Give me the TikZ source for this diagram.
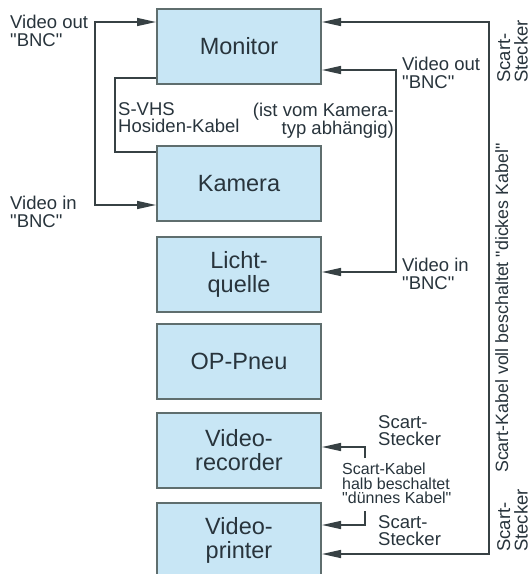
\documentclass[tikz,border=0pt]{standalone}
\usepackage{fontspec}
\setmainfont{Liberation Sans}[Ligatures=TeXOff]
\usetikzlibrary{arrows.meta}
\definecolor{boxfill}{RGB}{200,230,245}
\definecolor{boxdraw}{RGB}{95,110,110}
\definecolor{txtcol}{RGB}{40,52,60}
\definecolor{wirecol}{RGB}{55,65,68}
\begin{document}
\begin{tikzpicture}[x=1pt,y=-1pt,
  dev/.style={draw=boxdraw, line width=2pt, fill=boxfill, minimum width=164pt,
    minimum height=75pt, inner sep=0pt, align=center, text=txtcol,
    font=\fontsize{23.5}{24}\selectfont},
  lbl/.style={inner sep=0pt, text=txtcol, font=\fontsize{18.5}{17.5}\selectfont},
  smalllbl/.style={inner sep=0pt, text=txtcol, font=\fontsize{16}{14.5}\selectfont},
  wire/.style={draw=wirecol, line width=1.5pt},
  arr/.style={wire, -{Triangle[length=19pt,width=8pt]}},
  arrboth/.style={wire, {Triangle[length=19pt,width=8pt]}-{Triangle[length=19pt,width=8pt]}},
]
\useasboundingbox (0,0) rectangle (532,574);
\clip (0,0) rectangle (532,574);
\fill[white] (0,0) rectangle (532,574);

% devices
\node[dev] (mon) at (239,46) {Monitor};
\node[dev] (kam) at (239,183.5) {Kamera};
\node[dev] (lq) at (239,274) {Licht-\\quelle};
\node[dev] (op) at (239,361) {OP-Pneu};
\node[dev] (rec) at (239,450.5) {Video-\\recorder};
\node[dev] (prn) at (239,540) {Video-\\printer};

% left BNC cable
\coordinate (lv) at (95,0);
\draw[arrboth] (mon.west |- 0,22) -- (lv |- 0,22) -- (lv |- 0,205) -- (kam.west |- 0,205);
\node[lbl, anchor=north west, align=left] (vout) at (10,15) {Video out\\"BNC"};
\node[lbl, anchor=north west, align=left] (vin) at (10,196) {Video in\\"BNC"};

% S-VHS cable
\coordinate (sv) at (115,0);
\draw[wire] (mon.west |- 0,78) -- (sv |- 0,78) -- (sv |- 0,152) -- (kam.west |- 0,152);
\node[lbl, anchor=north west, align=left] (svhs) at (118,102) {S-VHS\\Hosiden-Kabel};
\node[lbl, anchor=north east, align=right] (typ) at (394,103) {(ist vom Kamera-\\typ abhängig)};

% right BNC cable
\coordinate (rv) at (396,0);
\draw[arrboth] (mon.east |- 0,70) -- (rv |- 0,70) -- (rv |- 0,272) -- (lq.east |- 0,272);
\node[lbl, anchor=north west, align=left] (rvout) at (402,57) {Video out\\"BNC"};
\node[lbl, anchor=north west, align=left] (rvin) at (402,258) {Video in\\"BNC"};

% thick scart cable
\coordinate (tv) at (489,0);
\draw[arrboth] (mon.east |- 0,22) -- (tv |- 0,22) -- (tv |- 0,554) -- (prn.east |- 0,554);
\node[lbl, rotate=90, anchor=north west, align=left] (st1) at (497,83) {Scart-\\Stecker};
\node[lbl, font=\fontsize{17.8}{17.5}\selectfont, rotate=90, anchor=base west] (dick) at (508,473) {Scart-Kabel voll beschaltet "dickes Kabel"};
\node[lbl, rotate=90, anchor=north west, align=left] (st2) at (497,552) {Scart-\\Stecker};

% thin scart cable
\coordinate (sc) at (365,0);
\draw[arr] (sc |- 0,458) -- (sc |- 0,447) -- (rec.east |- 0,447);
\draw[arr] (sc |- 0,511) -- (sc |- 0,525) -- (prn.east |- 0,525);
\node[lbl, anchor=north west, align=left] (st3) at (378,415) {Scart-\\Stecker};
\node[smalllbl, anchor=north west, align=left] (duenn) at (342,463) {Scart-Kabel\\halb beschaltet\\"dünnes Kabel"};
\node[lbl, anchor=north west, align=left] (st4) at (378,515) {Scart-\\Stecker};
\end{tikzpicture}
\end{document}
